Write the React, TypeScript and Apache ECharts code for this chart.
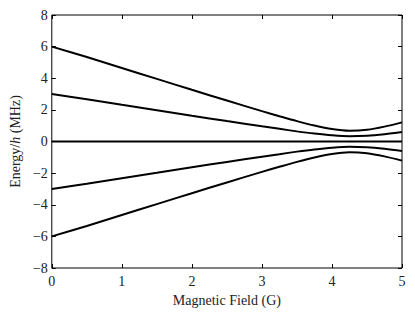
import React, { useEffect, useRef } from "react";
import * as echarts from "echarts";

const fieldG = [0, 0.5, 1, 1.5, 2, 2.5, 3, 3.25, 3.5, 3.75, 4, 4.25, 4.5, 4.75, 5];
const upperOuter = [6.0, 5.34, 4.65, 3.96, 3.27, 2.59, 1.92, 1.6, 1.29, 1.01, 0.79, 0.68, 0.74, 0.94, 1.21];
const upperInner = [3.0, 2.67, 2.32, 1.98, 1.63, 1.29, 0.96, 0.8, 0.64, 0.5, 0.39, 0.33, 0.36, 0.46, 0.6];
const middle = [0, 0, 0, 0, 0, 0, 0, 0, 0, 0, 0, 0, 0, 0, 0];
const lowerInner = [-3.0, -2.67, -2.32, -1.98, -1.63, -1.29, -0.96, -0.8, -0.64, -0.5, -0.39, -0.33, -0.36, -0.46, -0.6];
const lowerOuter = [-6.0, -5.34, -4.65, -3.96, -3.27, -2.59, -1.92, -1.6, -1.29, -1.01, -0.79, -0.68, -0.74, -0.94, -1.21];

const FONT = "Liberation Serif";
const FS = 14;
const TXT = "#222";

export default function App() {
  const ref = useRef<HTMLDivElement>(null);
  useEffect(() => {
    if (!ref.current) return;
    const chart = echarts.init(ref.current, undefined, { renderer: "svg" });
    const mk = (vals: number[]) => ({
      type: "line",
      data: fieldG.map((x, i) => [x, vals[i]]),
      showSymbol: false,
      smooth: 0.3,
      lineStyle: { color: "#000", width: 2 },
      xAxisIndex: 0,
      yAxisIndex: 0,
    });
    const minus = (v: number) => String(v).replace("-", "\u2212");
    const tick = { inside: true, length: 4, lineStyle: { color: "#000" } };
    const line = { show: false, onZero: false };
    chart.setOption({
      animation: false,
      grid: { left: 48, right: 13, top: 15, bottom: 44, show: true, borderColor: "#000", borderWidth: 1 },
      xAxis: [
        {
          type: "value", min: 0, max: 5, interval: 1,
          axisLine: line,
          axisTick: tick,
          splitLine: { show: false },
          axisLabel: { fontFamily: FONT, fontSize: FS, color: TXT, margin: 6 },
          name: "Magnetic Field (G)",
          nameLocation: "middle",
          nameGap: 25,
          nameTextStyle: { fontFamily: FONT, fontSize: FS, color: TXT },
        },
        {
          type: "value", min: 0, max: 5, interval: 1, position: "top",
          axisLine: line,
          axisTick: tick,
          splitLine: { show: false },
          axisLabel: { show: false },
        },
      ],
      yAxis: [
        {
          type: "value", min: -8, max: 8, interval: 2,
          axisLine: line,
          axisTick: tick,
          splitLine: { show: false },
          axisLabel: { fontFamily: FONT, fontSize: FS, color: TXT, margin: 4, formatter: minus },
          name: "{a|Energy/}{c|h}{a| (MHz)}",
          nameLocation: "middle",
          nameRotate: 90,
          nameGap: 28,
          nameTextStyle: {
            fontFamily: FONT, fontSize: FS, color: TXT,
            rich: {
              a: { fontFamily: FONT, fontSize: FS, color: TXT },
              c: { fontFamily: FONT, fontSize: FS, color: TXT, fontStyle: "italic" },
            },
          },
        },
        {
          type: "value", min: -8, max: 8, interval: 2, position: "right",
          axisLine: line,
          axisTick: tick,
          splitLine: { show: false },
          axisLabel: { show: false },
        },
      ],
      series: [mk(upperOuter), mk(upperInner), mk(middle), mk(lowerInner), mk(lowerOuter)],
    });
    return () => chart.dispose();
  }, []);
  return <div ref={ref} style={{ width: 415, height: 312, position: "absolute", left: 0, top: 0, background: "#fff" }} />;
}
